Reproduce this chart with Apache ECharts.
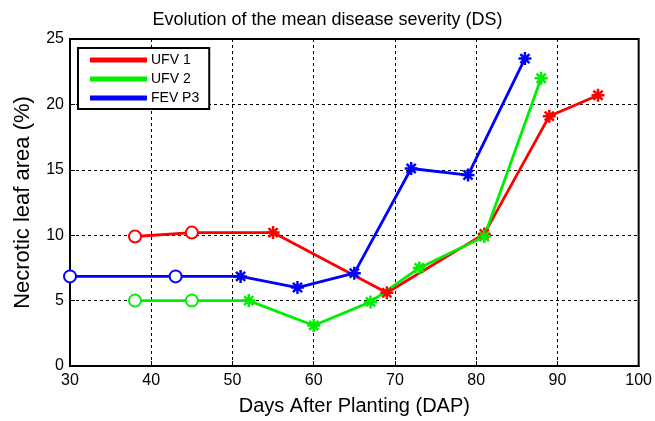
<!DOCTYPE html>
<html>
<head>
<meta charset="utf-8">
<script src="https://cdn.jsdelivr.net/npm/echarts@6/dist/echarts.min.js"></script>
<style>
  html, body { margin: 0; padding: 0; background: #fff; }
  #main { width: 655px; height: 421px; }
</style>
</head>
<body>
<div id="main"></div>
<script>
// data
var seriesNames = ['UFV 1', 'UFV 2', 'FEV P3'];
var colors = ['#ff0000', '#00ee00', '#0000ff'];

var ufv1Days = [38, 45, 55, 69, 81, 89, 95];
var ufv1DS = [9.9, 10.2, 10.2, 5.6, 10.1, 19.1, 20.7];
var ufv1Marks = ['o', 'o', '*', '*', '*', '*', '*'];

var ufv2Days = [38, 45, 52, 60, 67, 73, 81, 88];
var ufv2DS = [5.0, 5.0, 5.0, 3.1, 4.9, 7.5, 9.9, 22.0];
var ufv2Marks = ['o', 'o', '*', '*', '*', '*', '*', '*'];

var fevDays = [30, 43, 51, 58, 65, 72, 79, 86];
var fevDS = [6.85, 6.85, 6.85, 6.0, 7.1, 15.1, 14.6, 23.5];
var fevMarks = ['o', 'o', '*', '*', '*', '*', '*', '*'];

var asterisk = 'path://M0,-5L0,5M-5,0L5,0M-3.5,-3.5L3.5,3.5M-3.5,3.5L3.5,-3.5';

function makeData(days, vals, marks) {
    return days.map(function (d, i) {
        var star = marks[i] === '*';
        return {
            value: [d, vals[i]],
            symbol: star ? asterisk : 'emptyCircle',
            symbolSize: star ? 13 : 12
        };
    });
}

function makeSeries(name, color, days, vals, marks) {
    return {
        name: name,
        type: 'line',
        data: makeData(days, vals, marks),
        color: color,
        lineStyle: { width: 2.8, color: color },
        itemStyle: { color: color, borderColor: color, borderWidth: 2.5 },
        clip: false,
        z: 3
    };
}

var myChart = echarts.init(document.getElementById('main'));
var font = 'Liberation Sans, Arial, sans-serif';
option = {
    animation: false,
    backgroundColor: '#fff',
    title: {
        text: 'Evolution of the mean disease severity (DS)',
        left: 'center',
        top: 6,
        textStyle: { color: '#000', fontWeight: 'normal', fontSize: 18, fontFamily: font }
    },
    legend: {
        orient: 'vertical',
        left: 78,
        top: 48,
        icon: 'rect',
        itemWidth: 55,
        itemHeight: 3,
        itemGap: 5,
        padding: [5, 10, 4, 12],
        backgroundColor: '#fff',
        borderColor: '#000',
        borderWidth: 2,
        textStyle: { color: '#000', fontSize: 14, fontFamily: font },
        data: seriesNames
    },
    grid: {
        left: 70,
        right: 14,
        top: 39,
        bottom: 54,
        show: true,
        borderColor: '#000',
        borderWidth: 2
    },
    xAxis: {
        type: 'value',
        min: 30,
        max: 100,
        interval: 10,
        name: 'Days After Planting (DAP)',
        nameLocation: 'middle',
        nameGap: 30,
        nameTextStyle: { color: '#000', fontSize: 20, fontFamily: font },
        axisLine: { lineStyle: { color: '#000', width: 2 } },
        axisTick: { inside: true, length: 5, lineStyle: { color: '#000' } },
        axisLabel: { color: '#000', fontSize: 16, fontFamily: font, margin: 7 },
        splitLine: { show: true, lineStyle: { color: '#000', type: [3, 3], width: 1 } }
    },
    yAxis: {
        type: 'value',
        min: 0,
        max: 25,
        interval: 5,
        name: 'Necrotic leaf area (%)',
        nameLocation: 'middle',
        nameGap: 36,
        nameTextStyle: { color: '#000', fontSize: 22, fontFamily: font },
        axisLine: { show: true, lineStyle: { color: '#000', width: 2 } },
        axisTick: { show: true, inside: true, length: 5, lineStyle: { color: '#000' } },
        axisLabel: { color: '#000', fontSize: 16, fontFamily: font, margin: 6 },
        splitLine: { show: true, lineStyle: { color: '#000', type: [3, 3], width: 1 } }
    },
    series: [
        makeSeries(seriesNames[0], colors[0], ufv1Days, ufv1DS, ufv1Marks),
        makeSeries(seriesNames[1], colors[1], ufv2Days, ufv2DS, ufv2Marks),
        makeSeries(seriesNames[2], colors[2], fevDays, fevDS, fevMarks)
    ]
};
myChart.setOption(option);
</script>
</body>
</html>
